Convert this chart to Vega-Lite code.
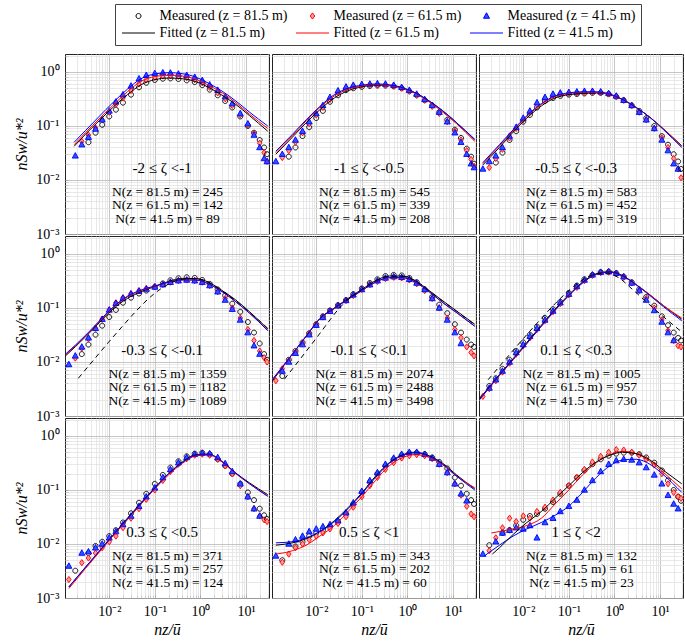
{
"$schema": "https://vega.github.io/schema/vega-lite/v6.json",
"padding": {"left": 13, "top": 3, "right": 0, "bottom": 0},
"background": "white",
"data": {"values": [
{"k":"m","p":1,"x":0.0018,"c":0.028},
{"k":"m","p":1,"x":0.0025,"b":0.052,"c":0.045},
{"k":"m","p":1,"x":0.0035,"a":0.05,"b":0.068,"c":0.062},
{"k":"m","p":1,"x":0.005,"a":0.075,"b":0.092,"c":0.088},
{"k":"m","p":1,"x":0.007,"a":0.105,"b":0.13,"c":0.13},
{"k":"m","p":1,"x":0.01,"a":0.15,"b":0.18,"c":0.19},
{"k":"m","p":1,"x":0.014,"a":0.2,"b":0.25,"c":0.28},
{"k":"m","p":1,"x":0.02,"a":0.27,"b":0.33,"c":0.38},
{"k":"m","p":1,"x":0.03,"a":0.38,"b":0.45,"c":0.55},
{"k":"m","p":1,"x":0.045,"a":0.52,"b":0.6,"c":0.75},
{"k":"m","p":1,"x":0.065,"a":0.63,"b":0.72,"c":0.87},
{"k":"m","p":1,"x":0.1,"a":0.71,"b":0.8,"c":0.94},
{"k":"m","p":1,"x":0.15,"a":0.75,"b":0.84,"c":0.97},
{"k":"m","p":1,"x":0.22,"a":0.76,"b":0.85,"c":0.96},
{"k":"m","p":1,"x":0.33,"a":0.74,"b":0.83,"c":0.92},
{"k":"m","p":1,"x":0.5,"a":0.7,"b":0.78,"c":0.87},
{"k":"m","p":1,"x":0.75,"a":0.65,"b":0.72,"c":0.8},
{"k":"m","p":1,"x":1.1,"a":0.57,"b":0.63,"c":0.7},
{"k":"m","p":1,"x":1.6,"a":0.47,"b":0.52,"c":0.58},
{"k":"m","p":1,"x":2.4,"a":0.37,"b":0.41,"c":0.46},
{"k":"m","p":1,"x":3.5,"a":0.29,"b":0.32,"c":0.35},
{"k":"m","p":1,"x":5,"a":0.22,"b":0.24,"c":0.26},
{"k":"m","p":1,"x":7.5,"a":0.15,"b":0.16,"c":0.17},
{"k":"m","p":1,"x":11,"a":0.1,"b":0.105,"c":0.11},
{"k":"m","p":1,"x":15,"a":0.075,"b":0.072,"c":0.068},
{"k":"m","p":1,"x":20,"a":0.055,"b":0.048,"c":0.04},
{"k":"m","p":1,"x":25,"a":0.04,"b":0.032,"c":0.025},
{"k":"m","p":1,"x":29,"a":0.03,"b":0.022,"c":0.022},
{"k":"f","p":1,"x":0.0017,"fa":0.042,"fb":0.045,"fc":0.05},
{"k":"f","p":1,"x":0.003,"fa":0.07,"fb":0.075,"fc":0.082},
{"k":"f","p":1,"x":0.006,"fa":0.125,"fb":0.135,"fc":0.15},
{"k":"f","p":1,"x":0.012,"fa":0.22,"fb":0.24,"fc":0.27},
{"k":"f","p":1,"x":0.025,"fa":0.38,"fb":0.43,"fc":0.48},
{"k":"f","p":1,"x":0.05,"fa":0.58,"fb":0.67,"fc":0.75},
{"k":"f","p":1,"x":0.1,"fa":0.72,"fb":0.82,"fc":0.92},
{"k":"f","p":1,"x":0.2,"fa":0.77,"fb":0.87,"fc":0.97},
{"k":"f","p":1,"x":0.4,"fa":0.75,"fb":0.84,"fc":0.93},
{"k":"f","p":1,"x":0.8,"fa":0.66,"fb":0.73,"fc":0.8},
{"k":"f","p":1,"x":1.5,"fa":0.52,"fb":0.57,"fc":0.62},
{"k":"f","p":1,"x":3,"fa":0.37,"fb":0.41,"fc":0.44},
{"k":"f","p":1,"x":6,"fa":0.25,"fb":0.27,"fc":0.29},
{"k":"f","p":1,"x":12,"fa":0.155,"fb":0.165,"fc":0.18},
{"k":"f","p":1,"x":30,"fa":0.08,"fb":0.09,"fc":0.1},
{"k":"t","p":1,"z":"-2 ≤ ζ <-1","n":["N(z = 81.5 m) = 245","N(z = 61.5 m) = 142","N(z = 41.5 m) = 89"]},

{"k":"m","p":2,"x":0.0013,"c":0.022},
{"k":"m","p":2,"x":0.0018,"b":0.026,"c":0.03},
{"k":"m","p":2,"x":0.0025,"a":0.027,"b":0.035,"c":0.04},
{"k":"m","p":2,"x":0.0035,"a":0.04,"b":0.05,"c":0.055},
{"k":"m","p":2,"x":0.005,"a":0.065,"b":0.075,"c":0.08},
{"k":"m","p":2,"x":0.007,"a":0.095,"b":0.11,"c":0.12},
{"k":"m","p":2,"x":0.01,"a":0.14,"b":0.16,"c":0.17},
{"k":"m","p":2,"x":0.014,"a":0.19,"b":0.22,"c":0.24},
{"k":"m","p":2,"x":0.02,"a":0.28,"b":0.31,"c":0.34},
{"k":"m","p":2,"x":0.03,"a":0.37,"b":0.42,"c":0.45},
{"k":"m","p":2,"x":0.045,"a":0.46,"b":0.5,"c":0.53},
{"k":"m","p":2,"x":0.065,"a":0.5,"b":0.55,"c":0.57},
{"k":"m","p":2,"x":0.1,"a":0.53,"b":0.57,"c":0.59},
{"k":"m","p":2,"x":0.15,"a":0.55,"b":0.58,"c":0.6},
{"k":"m","p":2,"x":0.22,"a":0.56,"b":0.58,"c":0.61},
{"k":"m","p":2,"x":0.33,"a":0.56,"b":0.57,"c":0.6},
{"k":"m","p":2,"x":0.5,"a":0.54,"b":0.55,"c":0.57},
{"k":"m","p":2,"x":0.75,"a":0.5,"b":0.5,"c":0.52},
{"k":"m","p":2,"x":1.1,"a":0.44,"b":0.44,"c":0.46},
{"k":"m","p":2,"x":1.6,"a":0.37,"b":0.37,"c":0.39},
{"k":"m","p":2,"x":2.4,"a":0.3,"b":0.3,"c":0.31},
{"k":"m","p":2,"x":3.5,"a":0.24,"b":0.23,"c":0.24},
{"k":"m","p":2,"x":5,"a":0.18,"b":0.17,"c":0.18},
{"k":"m","p":2,"x":7.5,"a":0.13,"b":0.12,"c":0.12},
{"k":"m","p":2,"x":11,"a":0.085,"b":0.08,"c":0.075},
{"k":"m","p":2,"x":15,"a":0.06,"b":0.055,"c":0.05},
{"k":"m","p":2,"x":20,"a":0.038,"b":0.035,"c":0.03},
{"k":"m","p":2,"x":25,"a":0.027,"b":0.024,"c":0.02},
{"k":"m","p":2,"x":29,"a":0.02,"b":0.018,"c":0.017},
{"k":"f","p":2,"x":0.0013,"fa":0.03,"fb":0.032,"fc":0.034},
{"k":"f","p":2,"x":0.003,"fa":0.062,"fb":0.066,"fc":0.07},
{"k":"f","p":2,"x":0.006,"fa":0.115,"fb":0.125,"fc":0.13},
{"k":"f","p":2,"x":0.012,"fa":0.2,"fb":0.22,"fc":0.23},
{"k":"f","p":2,"x":0.025,"fa":0.33,"fb":0.36,"fc":0.38},
{"k":"f","p":2,"x":0.05,"fa":0.45,"fb":0.48,"fc":0.5},
{"k":"f","p":2,"x":0.1,"fa":0.53,"fb":0.55,"fc":0.57},
{"k":"f","p":2,"x":0.2,"fa":0.57,"fb":0.58,"fc":0.6},
{"k":"f","p":2,"x":0.4,"fa":0.56,"fb":0.56,"fc":0.58},
{"k":"f","p":2,"x":0.8,"fa":0.5,"fb":0.5,"fc":0.51},
{"k":"f","p":2,"x":1.5,"fa":0.41,"fb":0.4,"fc":0.41},
{"k":"f","p":2,"x":3,"fa":0.29,"fb":0.28,"fc":0.29},
{"k":"f","p":2,"x":6,"fa":0.19,"fb":0.18,"fc":0.19},
{"k":"f","p":2,"x":12,"fa":0.115,"fb":0.11,"fc":0.115},
{"k":"f","p":2,"x":30,"fa":0.055,"fb":0.052,"fc":0.057},
{"k":"t","p":2,"z":"-1 ≤ ζ <-0.5","n":["N(z = 81.5 m) = 545","N(z = 61.5 m) = 339","N(z = 41.5 m) = 208"]},

{"k":"m","p":3,"x":0.0013,"c":0.016},
{"k":"m","p":3,"x":0.0018,"b":0.017,"c":0.022},
{"k":"m","p":3,"x":0.0025,"a":0.021,"b":0.025,"c":0.028},
{"k":"m","p":3,"x":0.0035,"a":0.032,"b":0.037,"c":0.04},
{"k":"m","p":3,"x":0.005,"a":0.055,"b":0.06,"c":0.065},
{"k":"m","p":3,"x":0.007,"a":0.08,"b":0.09,"c":0.095},
{"k":"m","p":3,"x":0.01,"a":0.12,"b":0.13,"c":0.14},
{"k":"m","p":3,"x":0.014,"a":0.16,"b":0.18,"c":0.19},
{"k":"m","p":3,"x":0.02,"a":0.22,"b":0.25,"c":0.27},
{"k":"m","p":3,"x":0.03,"a":0.29,"b":0.32,"c":0.34},
{"k":"m","p":3,"x":0.045,"a":0.33,"b":0.37,"c":0.39},
{"k":"m","p":3,"x":0.065,"a":0.36,"b":0.39,"c":0.41},
{"k":"m","p":3,"x":0.1,"a":0.38,"b":0.4,"c":0.42},
{"k":"m","p":3,"x":0.15,"a":0.39,"b":0.41,"c":0.43},
{"k":"m","p":3,"x":0.22,"a":0.4,"b":0.42,"c":0.44},
{"k":"m","p":3,"x":0.33,"a":0.41,"b":0.43,"c":0.44},
{"k":"m","p":3,"x":0.5,"a":0.41,"b":0.42,"c":0.43},
{"k":"m","p":3,"x":0.75,"a":0.39,"b":0.39,"c":0.4},
{"k":"m","p":3,"x":1.1,"a":0.35,"b":0.35,"c":0.36},
{"k":"m","p":3,"x":1.6,"a":0.3,"b":0.3,"c":0.3},
{"k":"m","p":3,"x":2.4,"a":0.24,"b":0.24,"c":0.24},
{"k":"m","p":3,"x":3.5,"a":0.19,"b":0.18,"c":0.18},
{"k":"m","p":3,"x":5,"a":0.14,"b":0.13,"c":0.13},
{"k":"m","p":3,"x":7.5,"a":0.1,"b":0.09,"c":0.09},
{"k":"m","p":3,"x":11,"a":0.065,"b":0.06,"c":0.055},
{"k":"m","p":3,"x":15,"a":0.045,"b":0.04,"c":0.035},
{"k":"m","p":3,"x":20,"a":0.03,"b":0.025,"c":0.02},
{"k":"m","p":3,"x":25,"a":0.022,"b":0.016,"c":0.016},
{"k":"m","p":3,"x":29,"a":0.016,"b":0.011},
{"k":"f","p":3,"x":0.0013,"fa":0.019,"fb":0.02,"fc":0.021},
{"k":"f","p":3,"x":0.003,"fa":0.04,"fb":0.043,"fc":0.045},
{"k":"f","p":3,"x":0.006,"fa":0.077,"fb":0.082,"fc":0.085},
{"k":"f","p":3,"x":0.012,"fa":0.14,"fb":0.15,"fc":0.155},
{"k":"f","p":3,"x":0.025,"fa":0.235,"fb":0.25,"fc":0.26},
{"k":"f","p":3,"x":0.05,"fa":0.33,"fb":0.35,"fc":0.36},
{"k":"f","p":3,"x":0.1,"fa":0.38,"fb":0.4,"fc":0.41},
{"k":"f","p":3,"x":0.2,"fa":0.4,"fb":0.42,"fc":0.43},
{"k":"f","p":3,"x":0.4,"fa":0.41,"fb":0.42,"fc":0.43},
{"k":"f","p":3,"x":0.8,"fa":0.38,"fb":0.38,"fc":0.39},
{"k":"f","p":3,"x":1.5,"fa":0.31,"fb":0.31,"fc":0.31},
{"k":"f","p":3,"x":3,"fa":0.22,"fb":0.22,"fc":0.22},
{"k":"f","p":3,"x":6,"fa":0.145,"fb":0.145,"fc":0.145},
{"k":"f","p":3,"x":12,"fa":0.088,"fb":0.087,"fc":0.085},
{"k":"f","p":3,"x":30,"fa":0.043,"fb":0.042,"fc":0.04},
{"k":"t","p":3,"z":"-0.5 ≤ ζ <-0.3","n":["N(z = 81.5 m) = 583","N(z = 61.5 m) = 452","N(z = 41.5 m) = 319"]},

{"k":"m","p":4,"x":0.0013,"c":0.009},
{"k":"m","p":4,"x":0.0018,"b":0.0118,"c":0.013},
{"k":"m","p":4,"x":0.0025,"a":0.014,"b":0.018,"c":0.019},
{"k":"m","p":4,"x":0.0035,"a":0.021,"b":0.027,"c":0.028},
{"k":"m","p":4,"x":0.005,"a":0.032,"b":0.042,"c":0.042},
{"k":"m","p":4,"x":0.007,"a":0.047,"b":0.062,"c":0.062},
{"k":"m","p":4,"x":0.01,"a":0.068,"b":0.092,"c":0.092},
{"k":"m","p":4,"x":0.014,"a":0.092,"b":0.125,"c":0.122},
{"k":"m","p":4,"x":0.02,"a":0.125,"b":0.155,"c":0.152},
{"k":"m","p":4,"x":0.03,"a":0.155,"b":0.185,"c":0.182},
{"k":"m","p":4,"x":0.045,"a":0.185,"b":0.21,"c":0.205},
{"k":"m","p":4,"x":0.065,"a":0.21,"b":0.23,"c":0.225},
{"k":"m","p":4,"x":0.1,"a":0.245,"b":0.25,"c":0.245},
{"k":"m","p":4,"x":0.15,"a":0.285,"b":0.27,"c":0.27},
{"k":"m","p":4,"x":0.22,"a":0.325,"b":0.3,"c":0.3},
{"k":"m","p":4,"x":0.33,"a":0.355,"b":0.32,"c":0.32},
{"k":"m","p":4,"x":0.5,"a":0.37,"b":0.33,"c":0.33},
{"k":"m","p":4,"x":0.75,"a":0.36,"b":0.32,"c":0.32},
{"k":"m","p":4,"x":1.1,"a":0.33,"b":0.3,"c":0.3},
{"k":"m","p":4,"x":1.6,"a":0.28,"b":0.26,"c":0.26},
{"k":"m","p":4,"x":2.4,"a":0.22,"b":0.2,"c":0.2},
{"k":"m","p":4,"x":3.5,"a":0.17,"b":0.15,"c":0.14},
{"k":"m","p":4,"x":5,"a":0.12,"b":0.1,"c":0.095},
{"k":"m","p":4,"x":7.5,"a":0.085,"b":0.065,"c":0.06},
{"k":"m","p":4,"x":11,"a":0.055,"b":0.04,"c":0.035},
{"k":"m","p":4,"x":15,"a":0.035,"b":0.025,"c":0.02},
{"k":"m","p":4,"x":20,"a":0.022,"b":0.016,"c":0.014},
{"k":"m","p":4,"x":25,"a":0.014,"b":0.012},
{"k":"m","p":4,"x":29,"a":0.011,"b":0.01},
{"k":"f","p":4,"x":0.0011,"fa":0.013,"fb":0.0135,"fc":0.014},
{"k":"f","p":4,"x":0.003,"fa":0.029,"fb":0.03,"fc":0.031},
{"k":"f","p":4,"x":0.006,"fa":0.053,"fb":0.055,"fc":0.057},
{"k":"f","p":4,"x":0.012,"fa":0.095,"fb":0.1,"fc":0.103},
{"k":"f","p":4,"x":0.025,"fa":0.15,"fb":0.16,"fc":0.165},
{"k":"f","p":4,"x":0.05,"fa":0.2,"fb":0.21,"fc":0.215},
{"k":"f","p":4,"x":0.1,"fa":0.25,"fb":0.25,"fc":0.255},
{"k":"f","p":4,"x":0.2,"fa":0.31,"fb":0.3,"fc":0.3},
{"k":"f","p":4,"x":0.4,"fa":0.35,"fb":0.33,"fc":0.33},
{"k":"f","p":4,"x":0.8,"fa":0.35,"fb":0.33,"fc":0.33},
{"k":"f","p":4,"x":1.5,"fa":0.3,"fb":0.28,"fc":0.28},
{"k":"f","p":4,"x":3,"fa":0.21,"fb":0.2,"fc":0.2},
{"k":"f","p":4,"x":6,"fa":0.14,"fb":0.13,"fc":0.13},
{"k":"f","p":4,"x":12,"fa":0.085,"fb":0.08,"fc":0.08},
{"k":"f","p":4,"x":30,"fa":0.041,"fb":0.039,"fc":0.038},
{"k":"d","p":4,"x":0.0021,"v":0.005},
{"k":"d","p":4,"x":0.005,"v":0.012},
{"k":"d","p":4,"x":0.01,"v":0.024},
{"k":"d","p":4,"x":0.02,"v":0.047},
{"k":"d","p":4,"x":0.04,"v":0.09},
{"k":"d","p":4,"x":0.08,"v":0.16},
{"k":"d","p":4,"x":0.15,"v":0.24},
{"k":"d","p":4,"x":0.3,"v":0.32},
{"k":"d","p":4,"x":0.6,"v":0.35},
{"k":"d","p":4,"x":1,"v":0.34},
{"k":"d","p":4,"x":2,"v":0.26},
{"k":"d","p":4,"x":4,"v":0.175},
{"k":"d","p":4,"x":10,"v":0.095},
{"k":"d","p":4,"x":30,"v":0.042},
{"k":"t","p":4,"z":"-0.3 ≤ ζ <-0.1","n":["N(z = 81.5 m) = 1359","N(z = 61.5 m) = 1182","N(z = 41.5 m) = 1089"]},

{"k":"m","p":5,"x":0.0013,"b":0.0045},
{"k":"m","p":5,"x":0.0018,"a":0.0055,"b":0.0075,"c":0.0068},
{"k":"m","p":5,"x":0.0025,"a":0.011,"b":0.0105,"c":0.01},
{"k":"m","p":5,"x":0.0035,"a":0.016,"b":0.015,"c":0.0145},
{"k":"m","p":5,"x":0.005,"a":0.023,"b":0.022,"c":0.021},
{"k":"m","p":5,"x":0.007,"a":0.034,"b":0.033,"c":0.032},
{"k":"m","p":5,"x":0.01,"a":0.05,"b":0.049,"c":0.048},
{"k":"m","p":5,"x":0.014,"a":0.07,"b":0.068,"c":0.067},
{"k":"m","p":5,"x":0.02,"a":0.09,"b":0.088,"c":0.087},
{"k":"m","p":5,"x":0.03,"a":0.113,"b":0.11,"c":0.11},
{"k":"m","p":5,"x":0.045,"a":0.14,"b":0.137,"c":0.138},
{"k":"m","p":5,"x":0.065,"a":0.18,"b":0.17,"c":0.175},
{"k":"m","p":5,"x":0.1,"a":0.23,"b":0.22,"c":0.22},
{"k":"m","p":5,"x":0.15,"a":0.29,"b":0.27,"c":0.27},
{"k":"m","p":5,"x":0.22,"a":0.34,"b":0.31,"c":0.32},
{"k":"m","p":5,"x":0.33,"a":0.39,"b":0.35,"c":0.36},
{"k":"m","p":5,"x":0.5,"a":0.41,"b":0.37,"c":0.38},
{"k":"m","p":5,"x":0.75,"a":0.4,"b":0.36,"c":0.37},
{"k":"m","p":5,"x":1.1,"a":0.36,"b":0.33,"c":0.34},
{"k":"m","p":5,"x":1.6,"a":0.3,"b":0.28,"c":0.29},
{"k":"m","p":5,"x":2.4,"a":0.22,"b":0.21,"c":0.22},
{"k":"m","p":5,"x":3.5,"a":0.16,"b":0.15,"c":0.15},
{"k":"m","p":5,"x":5,"a":0.115,"b":0.1,"c":0.1},
{"k":"m","p":5,"x":7.5,"a":0.08,"b":0.065,"c":0.06},
{"k":"m","p":5,"x":11,"a":0.05,"b":0.04,"c":0.035},
{"k":"m","p":5,"x":15,"a":0.035,"b":0.028,"c":0.022},
{"k":"m","p":5,"x":20,"a":0.026,"b":0.019},
{"k":"m","p":5,"x":25,"a":0.021,"b":0.015},
{"k":"m","p":5,"x":29,"a":0.019,"b":0.013},
{"k":"f","p":5,"x":0.0011,"fa":0.0045,"fb":0.0047,"fc":0.0048},
{"k":"f","p":5,"x":0.003,"fa":0.014,"fb":0.014,"fc":0.014},
{"k":"f","p":5,"x":0.006,"fa":0.03,"fb":0.03,"fc":0.03},
{"k":"f","p":5,"x":0.012,"fa":0.064,"fb":0.063,"fc":0.063},
{"k":"f","p":5,"x":0.025,"fa":0.1,"fb":0.098,"fc":0.098},
{"k":"f","p":5,"x":0.05,"fa":0.15,"fb":0.145,"fc":0.145},
{"k":"f","p":5,"x":0.1,"fa":0.22,"fb":0.21,"fc":0.21},
{"k":"f","p":5,"x":0.2,"fa":0.32,"fb":0.3,"fc":0.3},
{"k":"f","p":5,"x":0.4,"fa":0.39,"fb":0.36,"fc":0.365},
{"k":"f","p":5,"x":0.8,"fa":0.39,"fb":0.36,"fc":0.365},
{"k":"f","p":5,"x":1.5,"fa":0.32,"fb":0.3,"fc":0.3},
{"k":"f","p":5,"x":3,"fa":0.21,"fb":0.2,"fc":0.2},
{"k":"f","p":5,"x":6,"fa":0.135,"fb":0.125,"fc":0.125},
{"k":"f","p":5,"x":12,"fa":0.088,"fb":0.082,"fc":0.082},
{"k":"f","p":5,"x":30,"fa":0.05,"fb":0.046,"fc":0.046},
{"k":"d","p":5,"x":0.002,"v":0.0048},
{"k":"d","p":5,"x":0.005,"v":0.0129},
{"k":"d","p":5,"x":0.01,"v":0.0275},
{"k":"d","p":5,"x":0.02,"v":0.06},
{"k":"d","p":5,"x":0.03,"v":0.093},
{"k":"d","p":5,"x":0.05,"v":0.143},
{"k":"d","p":5,"x":0.1,"v":0.22},
{"k":"d","p":5,"x":0.2,"v":0.315},
{"k":"d","p":5,"x":0.4,"v":0.385},
{"k":"d","p":5,"x":0.8,"v":0.385},
{"k":"d","p":5,"x":1.5,"v":0.315},
{"k":"d","p":5,"x":3,"v":0.208},
{"k":"d","p":5,"x":6,"v":0.133},
{"k":"d","p":5,"x":12,"v":0.087},
{"k":"d","p":5,"x":30,"v":0.049},
{"k":"t","p":5,"z":"-0.1 ≤ ζ <0.1","n":["N(z = 81.5 m) = 2074","N(z = 61.5 m) = 2488","N(z = 41.5 m) = 3498"]},

{"k":"m","p":6,"x":0.0013,"b":0.0023},
{"k":"m","p":6,"x":0.0018,"a":0.0036,"b":0.0032,"c":0.0033},
{"k":"m","p":6,"x":0.0025,"a":0.005,"b":0.0045,"c":0.0047},
{"k":"m","p":6,"x":0.0035,"a":0.0075,"b":0.0065,"c":0.0068},
{"k":"m","p":6,"x":0.005,"a":0.011,"b":0.0095,"c":0.01},
{"k":"m","p":6,"x":0.007,"a":0.016,"b":0.014,"c":0.015},
{"k":"m","p":6,"x":0.01,"a":0.023,"b":0.02,"c":0.021},
{"k":"m","p":6,"x":0.014,"a":0.032,"b":0.028,"c":0.03},
{"k":"m","p":6,"x":0.02,"a":0.045,"b":0.04,"c":0.042},
{"k":"m","p":6,"x":0.03,"a":0.065,"b":0.058,"c":0.06},
{"k":"m","p":6,"x":0.045,"a":0.095,"b":0.085,"c":0.088},
{"k":"m","p":6,"x":0.065,"a":0.13,"b":0.12,"c":0.125},
{"k":"m","p":6,"x":0.1,"a":0.19,"b":0.175,"c":0.18},
{"k":"m","p":6,"x":0.15,"a":0.26,"b":0.24,"c":0.25},
{"k":"m","p":6,"x":0.22,"a":0.34,"b":0.32,"c":0.33},
{"k":"m","p":6,"x":0.33,"a":0.41,"b":0.4,"c":0.41},
{"k":"m","p":6,"x":0.5,"a":0.46,"b":0.45,"c":0.46},
{"k":"m","p":6,"x":0.75,"a":0.47,"b":0.46,"c":0.47},
{"k":"m","p":6,"x":1.1,"a":0.44,"b":0.43,"c":0.44},
{"k":"m","p":6,"x":1.6,"a":0.38,"b":0.37,"c":0.38},
{"k":"m","p":6,"x":2.4,"a":0.3,"b":0.29,"c":0.29},
{"k":"m","p":6,"x":3.5,"a":0.22,"b":0.21,"c":0.21},
{"k":"m","p":6,"x":5,"a":0.16,"b":0.15,"c":0.14},
{"k":"m","p":6,"x":7.5,"a":0.11,"b":0.1,"c":0.09},
{"k":"m","p":6,"x":11,"a":0.07,"b":0.06,"c":0.055},
{"k":"m","p":6,"x":15,"a":0.048,"b":0.038,"c":0.035},
{"k":"m","p":6,"x":20,"a":0.035,"b":0.025,"c":0.025},
{"k":"m","p":6,"x":25,"a":0.028,"b":0.02},
{"k":"m","p":6,"x":29,"a":0.025,"b":0.019},
{"k":"f","p":6,"x":0.0011,"fa":0.0021,"fb":0.002,"fc":0.002},
{"k":"f","p":6,"x":0.003,"fa":0.0058,"fb":0.0056,"fc":0.0057},
{"k":"f","p":6,"x":0.006,"fa":0.0115,"fb":0.011,"fc":0.0112},
{"k":"f","p":6,"x":0.012,"fa":0.023,"fb":0.022,"fc":0.022},
{"k":"f","p":6,"x":0.025,"fa":0.048,"fb":0.046,"fc":0.046},
{"k":"f","p":6,"x":0.05,"fa":0.095,"fb":0.09,"fc":0.092},
{"k":"f","p":6,"x":0.1,"fa":0.175,"fb":0.17,"fc":0.17},
{"k":"f","p":6,"x":0.2,"fa":0.3,"fb":0.29,"fc":0.29},
{"k":"f","p":6,"x":0.4,"fa":0.43,"fb":0.42,"fc":0.42},
{"k":"f","p":6,"x":0.8,"fa":0.47,"fb":0.46,"fc":0.46},
{"k":"f","p":6,"x":1.5,"fa":0.4,"fb":0.39,"fc":0.39},
{"k":"f","p":6,"x":3,"fa":0.27,"fb":0.27,"fc":0.27},
{"k":"f","p":6,"x":6,"fa":0.175,"fb":0.175,"fc":0.17},
{"k":"f","p":6,"x":12,"fa":0.11,"fb":0.11,"fc":0.105},
{"k":"f","p":6,"x":30,"fa":0.062,"fb":0.065,"fc":0.058},
{"k":"d","p":6,"x":0.0017,"v":0.0047},
{"k":"d","p":6,"x":0.004,"v":0.011},
{"k":"d","p":6,"x":0.01,"v":0.027},
{"k":"d","p":6,"x":0.02,"v":0.052},
{"k":"d","p":6,"x":0.05,"v":0.12},
{"k":"d","p":6,"x":0.1,"v":0.21},
{"k":"d","p":6,"x":0.2,"v":0.33},
{"k":"d","p":6,"x":0.4,"v":0.43},
{"k":"d","p":6,"x":0.7,"v":0.44},
{"k":"d","p":6,"x":1.2,"v":0.37},
{"k":"d","p":6,"x":2.5,"v":0.22},
{"k":"d","p":6,"x":5,"v":0.13},
{"k":"d","p":6,"x":10,"v":0.078},
{"k":"d","p":6,"x":30,"v":0.036},
{"k":"t","p":6,"z":"0.1 ≤ ζ <0.3","n":["N(z = 81.5 m) = 1005","N(z = 61.5 m) = 957","N(z = 41.5 m) = 730"]},

{"k":"m","p":7,"x":0.0013,"b":0.0022,"c":0.0039},
{"k":"m","p":7,"x":0.0018,"a":0.0032},
{"k":"m","p":7,"x":0.0025,"b":0.0045,"c":0.0068},
{"k":"m","p":7,"x":0.0035,"a":0.0068,"b":0.0055,"c":0.0072},
{"k":"m","p":7,"x":0.005,"a":0.0092,"b":0.0068,"c":0.0085},
{"k":"m","p":7,"x":0.007,"a":0.011,"b":0.0085,"c":0.01},
{"k":"m","p":7,"x":0.01,"a":0.014,"b":0.011,"c":0.013},
{"k":"m","p":7,"x":0.014,"a":0.018,"b":0.014,"c":0.017},
{"k":"m","p":7,"x":0.02,"a":0.025,"b":0.02,"c":0.023},
{"k":"m","p":7,"x":0.03,"a":0.037,"b":0.03,"c":0.033},
{"k":"m","p":7,"x":0.045,"a":0.058,"b":0.045,"c":0.05},
{"k":"m","p":7,"x":0.065,"a":0.085,"b":0.067,"c":0.075},
{"k":"m","p":7,"x":0.1,"a":0.13,"b":0.1,"c":0.11},
{"k":"m","p":7,"x":0.15,"a":0.19,"b":0.15,"c":0.17},
{"k":"m","p":7,"x":0.22,"a":0.26,"b":0.22,"c":0.24},
{"k":"m","p":7,"x":0.33,"a":0.34,"b":0.3,"c":0.32},
{"k":"m","p":7,"x":0.5,"a":0.42,"b":0.38,"c":0.4},
{"k":"m","p":7,"x":0.75,"a":0.47,"b":0.44,"c":0.46},
{"k":"m","p":7,"x":1.1,"a":0.49,"b":0.46,"c":0.48},
{"k":"m","p":7,"x":1.6,"a":0.46,"b":0.44,"c":0.47},
{"k":"m","p":7,"x":2.4,"a":0.37,"b":0.37,"c":0.4},
{"k":"m","p":7,"x":3.5,"a":0.28,"b":0.28,"c":0.31},
{"k":"m","p":7,"x":5,"a":0.2,"b":0.2,"c":0.22},
{"k":"m","p":7,"x":7.5,"a":0.13,"b":0.12,"c":0.13},
{"k":"m","p":7,"x":11,"a":0.09,"b":0.075,"c":0.075},
{"k":"m","p":7,"x":15,"a":0.065,"b":0.045,"c":0.045},
{"k":"m","p":7,"x":20,"a":0.045,"b":0.033,"c":0.033},
{"k":"m","p":7,"x":25,"a":0.034,"b":0.028},
{"k":"m","p":7,"x":29,"a":0.029,"b":0.026},
{"k":"f","p":7,"x":0.0013,"fa":0.0016,"fb":0.0015,"fc":0.0016},
{"k":"f","p":7,"x":0.003,"fa":0.0037,"fb":0.0035,"fc":0.0037},
{"k":"f","p":7,"x":0.006,"fa":0.0073,"fb":0.007,"fc":0.0073},
{"k":"f","p":7,"x":0.012,"fa":0.0145,"fb":0.014,"fc":0.0145},
{"k":"f","p":7,"x":0.025,"fa":0.03,"fb":0.028,"fc":0.029},
{"k":"f","p":7,"x":0.05,"fa":0.058,"fb":0.055,"fc":0.057},
{"k":"f","p":7,"x":0.1,"fa":0.11,"fb":0.105,"fc":0.108},
{"k":"f","p":7,"x":0.2,"fa":0.2,"fb":0.19,"fc":0.2},
{"k":"f","p":7,"x":0.4,"fa":0.33,"fb":0.31,"fc":0.32},
{"k":"f","p":7,"x":0.8,"fa":0.45,"fb":0.43,"fc":0.44},
{"k":"f","p":7,"x":1.5,"fa":0.46,"fb":0.45,"fc":0.46},
{"k":"f","p":7,"x":3,"fa":0.33,"fb":0.33,"fc":0.34},
{"k":"f","p":7,"x":6,"fa":0.205,"fb":0.2,"fc":0.205},
{"k":"f","p":7,"x":12,"fa":0.135,"fb":0.13,"fc":0.13},
{"k":"f","p":7,"x":30,"fa":0.082,"fb":0.078,"fc":0.076},
{"k":"t","p":7,"z":"0.3 ≤ ζ <0.5","n":["N(z = 81.5 m) = 371","N(z = 61.5 m) = 257","N(z = 41.5 m) = 124"]},

{"k":"m","p":8,"x":0.0013,"c":0.006},
{"k":"m","p":8,"x":0.0018,"a":0.005,"b":0.0046},
{"k":"m","p":8,"x":0.0025,"b":0.0065,"c":0.01},
{"k":"m","p":8,"x":0.0035,"a":0.009,"b":0.0085,"c":0.012},
{"k":"m","p":8,"x":0.005,"a":0.011,"b":0.01,"c":0.014},
{"k":"m","p":8,"x":0.007,"a":0.014,"b":0.012,"c":0.017},
{"k":"m","p":8,"x":0.01,"a":0.016,"b":0.014,"c":0.019},
{"k":"m","p":8,"x":0.014,"a":0.018,"b":0.016,"c":0.021},
{"k":"m","p":8,"x":0.02,"a":0.021,"b":0.019,"c":0.023},
{"k":"m","p":8,"x":0.03,"a":0.026,"b":0.024,"c":0.027},
{"k":"m","p":8,"x":0.045,"a":0.036,"b":0.032,"c":0.038},
{"k":"m","p":8,"x":0.065,"a":0.055,"b":0.048,"c":0.058},
{"k":"m","p":8,"x":0.1,"a":0.09,"b":0.075,"c":0.095},
{"k":"m","p":8,"x":0.15,"a":0.14,"b":0.12,"c":0.15},
{"k":"m","p":8,"x":0.22,"a":0.2,"b":0.17,"c":0.21},
{"k":"m","p":8,"x":0.33,"a":0.28,"b":0.24,"c":0.3},
{"k":"m","p":8,"x":0.5,"a":0.37,"b":0.32,"c":0.39},
{"k":"m","p":8,"x":0.75,"a":0.44,"b":0.39,"c":0.46},
{"k":"m","p":8,"x":1.1,"a":0.48,"b":0.43,"c":0.5},
{"k":"m","p":8,"x":1.6,"a":0.49,"b":0.45,"c":0.5},
{"k":"m","p":8,"x":2.4,"a":0.46,"b":0.43,"c":0.46},
{"k":"m","p":8,"x":3.5,"a":0.4,"b":0.38,"c":0.39},
{"k":"m","p":8,"x":5,"a":0.33,"b":0.3,"c":0.3},
{"k":"m","p":8,"x":7.5,"a":0.25,"b":0.21,"c":0.21},
{"k":"m","p":8,"x":11,"a":0.17,"b":0.13,"c":0.13},
{"k":"m","p":8,"x":15,"a":0.12,"b":0.08,"c":0.085},
{"k":"m","p":8,"x":20,"a":0.085,"b":0.05,"c":0.063},
{"k":"m","p":8,"x":25,"a":0.065,"b":0.036},
{"k":"m","p":8,"x":29,"a":0.055,"b":0.032},
{"k":"f","p":8,"x":0.0013,"fa":0.0095,"fb":0.0065,"fc":0.0105},
{"k":"f","p":8,"x":0.003,"fa":0.0105,"fb":0.0075,"fc":0.011},
{"k":"f","p":8,"x":0.006,"fa":0.0125,"fb":0.0095,"fc":0.013},
{"k":"f","p":8,"x":0.012,"fa":0.017,"fb":0.014,"fc":0.017},
{"k":"f","p":8,"x":0.025,"fa":0.027,"fb":0.022,"fc":0.026},
{"k":"f","p":8,"x":0.05,"fa":0.047,"fb":0.04,"fc":0.045},
{"k":"f","p":8,"x":0.1,"fa":0.088,"fb":0.075,"fc":0.085},
{"k":"f","p":8,"x":0.2,"fa":0.18,"fb":0.15,"fc":0.17},
{"k":"f","p":8,"x":0.4,"fa":0.32,"fb":0.28,"fc":0.31},
{"k":"f","p":8,"x":0.8,"fa":0.45,"fb":0.4,"fc":0.44},
{"k":"f","p":8,"x":1.5,"fa":0.5,"fb":0.45,"fc":0.49},
{"k":"f","p":8,"x":3,"fa":0.43,"fb":0.4,"fc":0.42},
{"k":"f","p":8,"x":6,"fa":0.31,"fb":0.29,"fc":0.3},
{"k":"f","p":8,"x":12,"fa":0.19,"fb":0.18,"fc":0.18},
{"k":"f","p":8,"x":30,"fa":0.105,"fb":0.11,"fc":0.1},
{"k":"t","p":8,"z":"0.5 ≤ ζ <1","n":["N(z = 81.5 m) = 343","N(z = 61.5 m) = 202","N(z = 41.5 m) = 60"]},

{"k":"m","p":9,"x":0.0013,"c":0.0065},
{"k":"m","p":9,"x":0.0018,"a":0.0095,"b":0.0075},
{"k":"m","p":9,"x":0.0025,"b":0.013,"c":0.011},
{"k":"m","p":9,"x":0.0035,"a":0.016,"b":0.02,"c":0.016},
{"k":"m","p":9,"x":0.005,"a":0.018,"b":0.03,"c":0.018},
{"k":"m","p":9,"x":0.007,"a":0.022,"b":0.026,"c":0.02},
{"k":"m","p":9,"x":0.01,"a":0.028,"b":0.033,"c":0.019},
{"k":"m","p":9,"x":0.014,"a":0.033,"b":0.03,"c":0.022},
{"k":"m","p":9,"x":0.02,"a":0.036,"b":0.04,"c":0.013},
{"k":"m","p":9,"x":0.03,"a":0.045,"b":0.048,"c":0.025},
{"k":"m","p":9,"x":0.045,"a":0.06,"b":0.065,"c":0.03},
{"k":"m","p":9,"x":0.065,"a":0.085,"b":0.09,"c":0.04},
{"k":"m","p":9,"x":0.1,"a":0.12,"b":0.12,"c":0.05},
{"k":"m","p":9,"x":0.15,"a":0.17,"b":0.17,"c":0.065},
{"k":"m","p":9,"x":0.22,"a":0.23,"b":0.24,"c":0.1},
{"k":"m","p":9,"x":0.33,"a":0.3,"b":0.33,"c":0.15},
{"k":"m","p":9,"x":0.5,"a":0.37,"b":0.42,"c":0.22},
{"k":"m","p":9,"x":0.75,"a":0.43,"b":0.5,"c":0.3},
{"k":"m","p":9,"x":1.1,"a":0.47,"b":0.56,"c":0.35},
{"k":"m","p":9,"x":1.6,"a":0.49,"b":0.55,"c":0.37},
{"k":"m","p":9,"x":2.4,"a":0.49,"b":0.5,"c":0.36},
{"k":"m","p":9,"x":3.5,"a":0.46,"b":0.44,"c":0.32},
{"k":"m","p":9,"x":5,"a":0.4,"b":0.37,"c":0.26},
{"k":"m","p":9,"x":7.5,"a":0.32,"b":0.29,"c":0.19},
{"k":"m","p":9,"x":11,"a":0.23,"b":0.2,"c":0.13},
{"k":"m","p":9,"x":15,"a":0.15,"b":0.13,"c":0.08},
{"k":"m","p":9,"x":20,"a":0.1,"b":0.09,"c":0.055},
{"k":"m","p":9,"x":25,"a":0.075,"b":0.075,"c":0.045},
{"k":"m","p":9,"x":29,"a":0.063,"b":0.07},
{"k":"f","p":9,"x":0.0014,"fc":0.006},
{"k":"f","p":9,"x":0.002,"fb":0.016},
{"k":"f","p":9,"x":0.0021,"fa":0.0065},
{"k":"f","p":9,"x":0.003,"fa":0.0085,"fb":0.017,"fc":0.0095},
{"k":"f","p":9,"x":0.006,"fa":0.015,"fb":0.019,"fc":0.014},
{"k":"f","p":9,"x":0.012,"fa":0.025,"fb":0.022,"fc":0.019},
{"k":"f","p":9,"x":0.025,"fa":0.04,"fb":0.03,"fc":0.025},
{"k":"f","p":9,"x":0.05,"fa":0.07,"fb":0.055,"fc":0.034},
{"k":"f","p":9,"x":0.1,"fa":0.12,"fb":0.1,"fc":0.05},
{"k":"f","p":9,"x":0.2,"fa":0.21,"fb":0.19,"fc":0.09},
{"k":"f","p":9,"x":0.4,"fa":0.33,"fb":0.32,"fc":0.17},
{"k":"f","p":9,"x":0.8,"fa":0.44,"fb":0.45,"fc":0.28},
{"k":"f","p":9,"x":1.5,"fa":0.5,"fb":0.52,"fc":0.36},
{"k":"f","p":9,"x":3,"fa":0.47,"fb":0.47,"fc":0.37},
{"k":"f","p":9,"x":6,"fa":0.36,"fb":0.34,"fc":0.3},
{"k":"f","p":9,"x":12,"fa":0.23,"fb":0.21,"fc":0.19},
{"k":"f","p":9,"x":30,"fa":0.13,"fb":0.105,"fc":0.09},
{"k":"t","p":9,"z":"1 ≤ ζ <2","n":["N(z = 81.5 m) = 132","N(z = 61.5 m) = 61","N(z = 41.5 m) = 23"]}
]},
"transform": [
  {"lookup": "p", "from": {"data": {"values": [
    {"p":1,"r":1,"q":1},{"p":2,"r":1,"q":2},{"p":3,"r":1,"q":3},
    {"p":4,"r":2,"q":1},{"p":5,"r":2,"q":2},{"p":6,"r":2,"q":3},
    {"p":7,"r":3,"q":1},{"p":8,"r":3,"q":2},{"p":9,"r":3,"q":3}]}, "key": "p", "fields": ["r", "q"]}}
],
"facet": {
  "row": {"field": "r", "type": "ordinal", "header": null, "title": null},
  "column": {"field": "q", "type": "ordinal", "header": null, "title": null}
},
"spacing": {"row": 2, "column": 3},
"bounds": "flush",
"spec": {
  "width": 204,
  "height": 180,
  "layer": [
    {
      "encoding": {
        "x": {"field": "x", "type": "quantitative",
          "scale": {"type": "log", "domain": [0.00107, 32], "nice": false},
          "axis": {"title": "nz/ū", "titleFontStyle": "italic", "titleFontWeight": "normal", "titleFontSize": 16, "titleColor": "black", "titlePadding": 3,
            "values": [0.002,0.003,0.004,0.005,0.006,0.007,0.008,0.009,0.01,0.02,0.03,0.04,0.05,0.06,0.07,0.08,0.09,0.1,0.2,0.3,0.4,0.5,0.6,0.7,0.8,0.9,1,2,3,4,5,6,7,8,9,10,20,30],
            "labelExpr": "datum.value == 0.01 ? '10⁻²' : datum.value == 0.1 ? '10⁻¹' : datum.value == 1 ? '10⁰' : datum.value == 10 ? '10¹' : ''",
            "labelFontSize": 14, "labelColor": "black", "labelPadding": 9, "labelOverlap": false, "labelBound": false, "labelFlush": false,
            "grid": true, "gridColor": {"condition": {"test": "indexof([0.01,0.1,1,10], datum.value) >= 0", "value": "#b8b8b8"}, "value": "#e2e2e2"}, "gridWidth": 0.8,
            "domain": false, "ticks": true, "tickSize": -3, "tickColor": "#555", "tickWidth": 0.8}},
        "y": {"field": "v", "type": "quantitative",
          "scale": {"type": "log", "domain": [0.001, 2.15], "nice": false},
          "axis": {"title": "nSw/u*²", "titleFontStyle": "italic", "titleFontWeight": "normal", "titleFontSize": 16, "titleColor": "black", "titlePadding": 6,
            "values": [0.001,0.002,0.003,0.004,0.005,0.006,0.007,0.008,0.009,0.01,0.02,0.03,0.04,0.05,0.06,0.07,0.08,0.09,0.1,0.2,0.3,0.4,0.5,0.6,0.7,0.8,0.9,1,2],
            "labelExpr": "datum.value == 0.001 ? '10⁻³' : datum.value == 0.01 ? '10⁻²' : datum.value == 0.1 ? '10⁻¹' : datum.value == 1 ? '10⁰' : ''",
            "labelFontSize": 14, "labelColor": "black", "labelPadding": 9, "labelOverlap": false, "labelBound": false, "labelFlush": false,
            "grid": true, "gridColor": {"condition": {"test": "indexof([0.001,0.01,0.1,1], datum.value) >= 0", "value": "#b8b8b8"}, "value": "#e2e2e2"}, "gridWidth": 0.8,
            "domain": false, "ticks": true, "tickSize": -3, "tickColor": "#555", "tickWidth": 0.8}}
      },
      "layer": [
        {
          "transform": [{"filter": "datum.k == 'm'"}, {"fold": ["a", "b", "c"], "as": ["s", "v"]}, {"filter": "isValid(datum.v)"}],
          "mark": {"type": "point", "strokeWidth": 0.9, "opacity": 1, "size": 100},
          "encoding": {
            "stroke": {"field": "s", "type": "nominal",
              "scale": {"domain": ["a","b","c","fa","fb","fc"], "range": ["black","#ff0000","#0000ff","black","#ff0000","#0000ff"]},
              "legend": {"title": null, "orient": "none", "legendX": 50, "legendY": -50, "columns": 3, "direction": "horizontal",
                "labelExpr": "datum.label == 'a' ? 'Measured (z = 81.5 m)' : datum.label == 'b' ? 'Measured (z = 61.5 m)' : datum.label == 'c' ? 'Measured (z = 41.5 m)' : datum.label == 'fa' ? 'Fitted (z = 81.5 m)' : datum.label == 'fb' ? 'Fitted (z = 61.5 m)' : 'Fitted (z = 41.5 m)'"}},
            "fill": {"field": "s", "type": "nominal",
              "scale": {"domain": ["a","b","c","fa","fb","fc"], "range": ["transparent","#ff9a9a","#2a55ff","transparent","transparent","transparent"]},
              "legend": {"title": null, "orient": "none", "legendX": 50, "legendY": -50, "columns": 3, "direction": "horizontal",
                "labelExpr": "datum.label == 'a' ? 'Measured (z = 81.5 m)' : datum.label == 'b' ? 'Measured (z = 61.5 m)' : datum.label == 'c' ? 'Measured (z = 41.5 m)' : datum.label == 'fa' ? 'Fitted (z = 81.5 m)' : datum.label == 'fb' ? 'Fitted (z = 61.5 m)' : 'Fitted (z = 41.5 m)'"}},
            "shape": {"field": "s", "type": "nominal",
              "scale": {"domain": ["a","b","c","fa","fb","fc"], "range": ["M-0.5,0A0.5,0.5,0,1,1,0.5,0A0.5,0.5,0,1,1,-0.5,0Z","M0,-0.62L0.45,0L0,0.62L-0.45,0Z","M0,-0.65L0.6,0.45L-0.6,0.45Z","M-3.3,0L3.3,0","M-3.3,0L3.3,0","M-3.3,0L3.3,0"]},
              "legend": {"title": null, "orient": "none", "legendX": 50, "legendY": -50, "columns": 3, "direction": "horizontal",
                "labelExpr": "datum.label == 'a' ? 'Measured (z = 81.5 m)' : datum.label == 'b' ? 'Measured (z = 61.5 m)' : datum.label == 'c' ? 'Measured (z = 41.5 m)' : datum.label == 'fa' ? 'Fitted (z = 81.5 m)' : datum.label == 'fb' ? 'Fitted (z = 61.5 m)' : 'Fitted (z = 41.5 m)'"}}
          }
        },
        {
          "transform": [{"filter": "datum.k == 'f'"}, {"fold": ["fa", "fb", "fc"], "as": ["s", "v"]}, {"filter": "isValid(datum.v)"}],
          "mark": {"type": "line", "strokeWidth": 1, "interpolate": "monotone"},
          "encoding": {
            "stroke": {"field": "s", "type": "nominal",
              "scale": {"domain": ["a","b","c","fa","fb","fc"], "range": ["black","#ff0000","#0000ff","black","#ff0000","#0000ff"]},
              "legend": {"title": null, "orient": "none", "legendX": 50, "legendY": -50, "columns": 3, "direction": "horizontal",
                "labelExpr": "datum.label == 'a' ? 'Measured (z = 81.5 m)' : datum.label == 'b' ? 'Measured (z = 61.5 m)' : datum.label == 'c' ? 'Measured (z = 41.5 m)' : datum.label == 'fa' ? 'Fitted (z = 81.5 m)' : datum.label == 'fb' ? 'Fitted (z = 61.5 m)' : 'Fitted (z = 41.5 m)'"}}
          }
        },
        {
          "transform": [{"filter": "datum.k == 'd'"}],
          "mark": {"type": "line", "stroke": "black", "strokeWidth": 1, "strokeDash": [5, 4], "interpolate": "monotone"}
        }
      ]
    },
    {
      "transform": [{"filter": "datum.k == 't'"}],
      "mark": {"type": "text", "fontSize": 15, "font": "Liberation Serif", "baseline": "middle", "align": "center", "fill": "black"},
      "encoding": {"x": {"datum": 0.145, "type": "quantitative"}, "y": {"datum": 0.0166, "type": "quantitative"}, "text": {"field": "z"}}
    },
    {
      "transform": [{"filter": "datum.k == 't'"}],
      "mark": {"type": "text", "fontSize": 13.5, "font": "Liberation Serif", "baseline": "top", "align": "center", "fill": "black", "lineHeight": 13.5},
      "encoding": {"x": {"datum": 0.19, "type": "quantitative"}, "y": {"datum": 0.0082, "type": "quantitative"}, "text": {"field": "n"}}
    }
  ]
},
"config": {
  "font": "Liberation Serif",
  "view": {"stroke": "#222", "strokeWidth": 1},
  "legend": {"labelFont": "Liberation Serif", "labelFontSize": 14, "labelColor": "black", "symbolStrokeWidth": 1, "symbolSize": 100, "symbolOffset": 11.5, "strokeColor": "#444", "fillColor": "white", "padding": 5, "columnPadding": 6, "rowPadding": 3, "labelOffset": 14, "labelLimit": 0, "symbolOpacity": 1}
}
}
